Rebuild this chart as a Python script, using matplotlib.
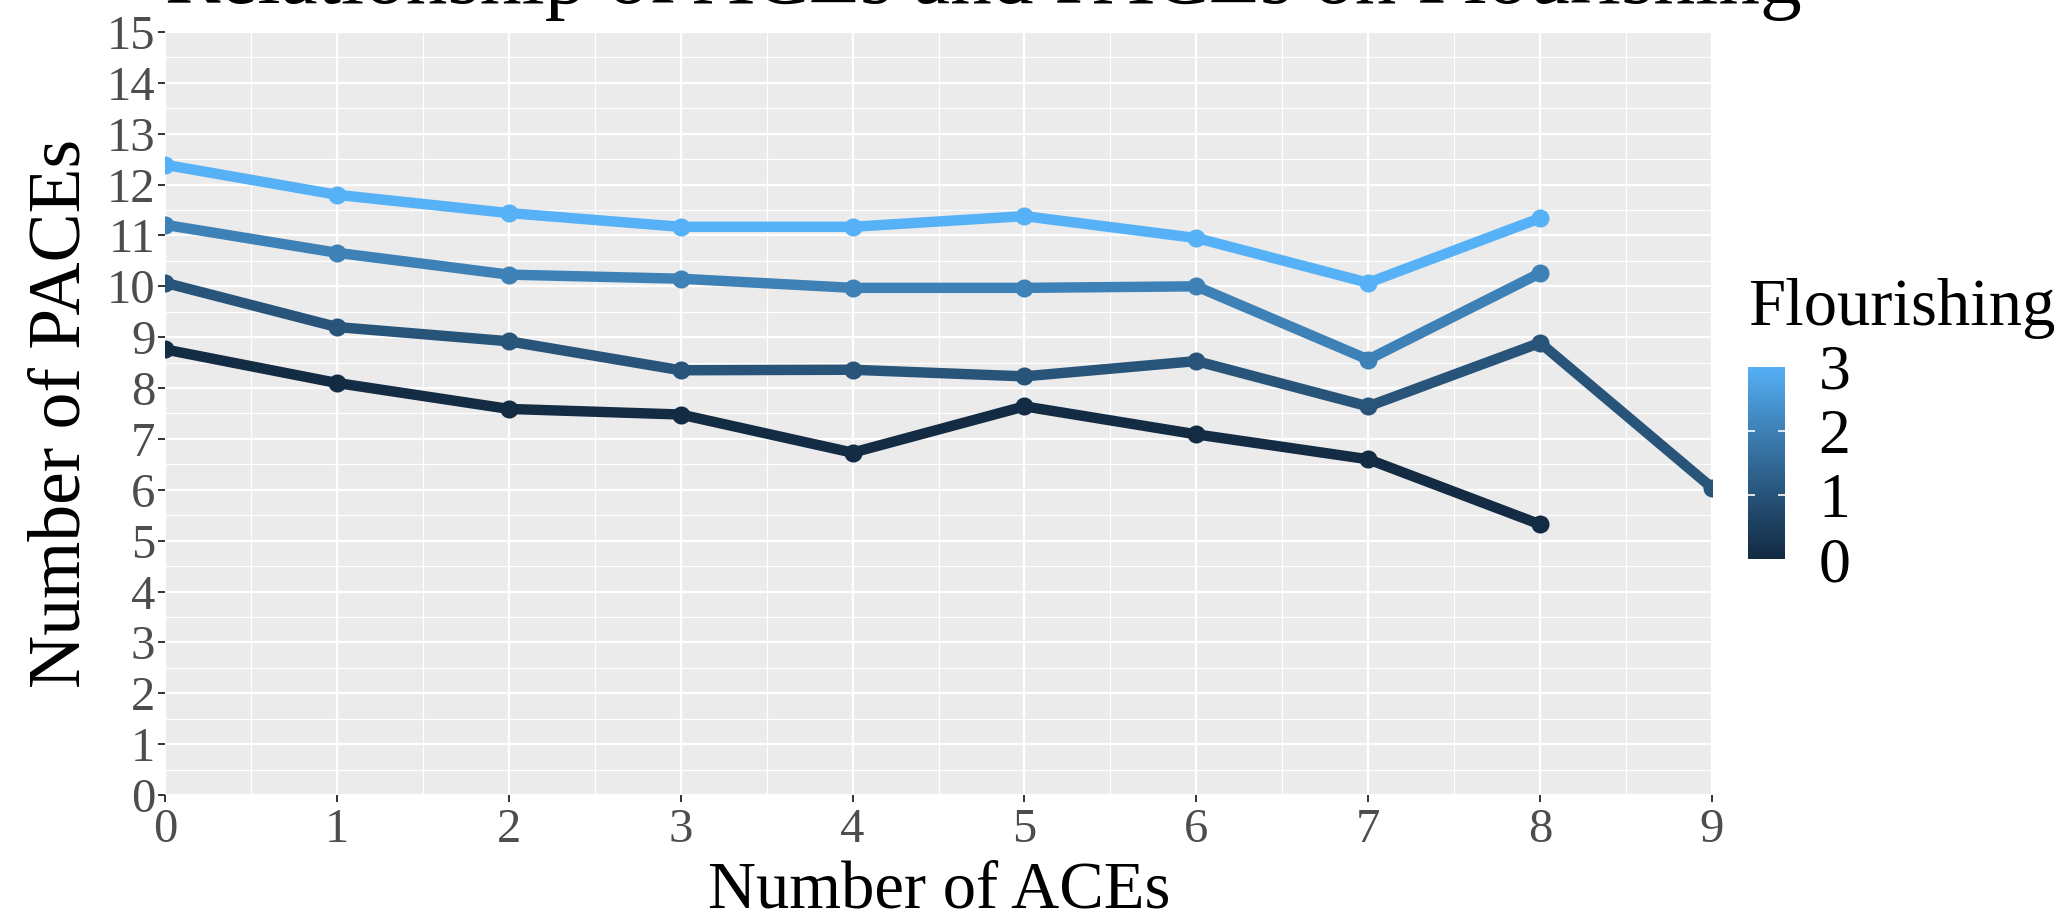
import matplotlib
matplotlib.use("Agg")
import matplotlib.pyplot as plt
import numpy as np
from matplotlib.colors import ListedColormap, to_rgb
from matplotlib.ticker import MultipleLocator

# values
aces = [0, 1, 2, 3, 4, 5, 6, 7, 8, 9]
levels = [0, 1, 2, 3]
paces_f0 = [8.76, 8.10, 7.59, 7.48, 6.73, 7.64, 7.09, 6.60, 5.32]
paces_f1 = [10.07, 9.20, 8.92, 8.35, 8.36, 8.23, 8.53, 7.64, 8.89, 6.04]
paces_f2 = [11.21, 10.66, 10.23, 10.15, 9.97, 9.97, 10.00, 8.56, 10.26]
paces_f3 = [12.39, 11.80, 11.44, 11.17, 11.17, 11.38, 10.95, 10.07, 11.34]
series = [paces_f0, paces_f1, paces_f2, paces_f3]

title = "Relationship of ACEs and PACEs on Flourishing"
x_title = "Number of ACEs"
y_title = "Number of PACEs"
legend_title = "Flourishing"

LOW, HIGH = "#132B43", "#56B1F7"

W, H = 2056, 914
M = np.array([[0.4124, 0.3576, 0.1805],
              [0.2126, 0.7152, 0.0722],
              [0.0193, 0.1192, 0.9505]])
WHITE = np.array([0.95047, 1.0, 1.08883])


def to_lab(rgb):
    c = np.asarray(rgb, float)
    lin = np.where(c <= 0.04045, c / 12.92, ((c + 0.055) / 1.055) ** 2.4)
    xyz = M @ lin / WHITE
    f = np.where(xyz > 0.008856, np.cbrt(xyz), 7.787 * xyz + 16 / 116)
    return np.array([116 * f[1] - 16, 500 * (f[0] - f[1]), 200 * (f[1] - f[2])])


def from_lab(lab):
    L, a, b = lab
    fy = (L + 16) / 116
    fx = fy + a / 500
    fz = fy - b / 200
    f = np.array([fx, fy, fz])
    xyz = np.where(f ** 3 > 0.008856, f ** 3, (f - 16 / 116) / 7.787) * WHITE
    lin = np.linalg.solve(M, xyz)
    lin = np.clip(lin, 0, 1)
    c = np.where(lin <= 0.0031308, 12.92 * lin, 1.055 * lin ** (1 / 2.4) - 0.055)
    return np.clip(c, 0, 1)


lab_lo, lab_hi = to_lab(to_rgb(LOW)), to_lab(to_rgb(HIGH))


def gradient(t):
    return from_lab(lab_lo + (lab_hi - lab_lo) * t)


plt.rcParams["font.family"] = ["Liberation Serif", "DejaVu Serif"]

fig = plt.figure(figsize=(W / 100, H / 100), dpi=100)

px0, px1, py_top, py_bot = 165, 1712, 32, 795
ax = fig.add_axes([px0 / W, 1 - py_bot / H, (px1 - px0) / W, (py_bot - py_top) / H])
ax.set_facecolor("#EBEBEB")
for sp in ax.spines.values():
    sp.set_visible(False)

ax.set_xlim(0, 9)
ax.set_ylim(0, 15)
ax.xaxis.set_major_locator(MultipleLocator(1))
ax.xaxis.set_minor_locator(MultipleLocator(0.5))
ax.yaxis.set_major_locator(MultipleLocator(1))
ax.yaxis.set_minor_locator(MultipleLocator(0.5))
ax.grid(which="major", color="white", linewidth=1.7)
ax.grid(which="minor", color="white", linewidth=0.8)
ax.set_axisbelow(True)
ax.tick_params(which="major", length=5, width=1.4, color="#333333",
               labelcolor="#4D4D4D", labelsize=35)
ax.tick_params(axis="y", pad=2)
ax.tick_params(axis="x", pad=4)
ax.tick_params(which="minor", length=0)

for lvl, vals in zip(levels, series):
    col = gradient(lvl / 3)
    ax.plot(aces[:len(vals)], vals, color=col, linewidth=7.5,
            solid_capstyle="butt", solid_joinstyle="round",
            marker="o", markersize=13, markeredgewidth=0, zorder=3)

fig.text(px0 / W, 1 - 3 / H, title, ha="left", va="baseline", fontsize=60)
fig.text(939 / W, 1 - 907 / H, x_title, ha="center", va="baseline", fontsize=48)
fig.text(62 / W, 1 - 413 / H, y_title, ha="center", va="center",
         rotation=90, fontsize=53)

# colourbar legend
cx0, cx1, cy_top, cy_bot = 1748, 1785, 367, 559
cax = fig.add_axes([cx0 / W, 1 - cy_bot / H, (cx1 - cx0) / W, (cy_bot - cy_top) / H])
ramp = np.linspace(0, 1, 256)
cmap = ListedColormap([gradient(t) for t in ramp])
cax.imshow(ramp[:, None], cmap=cmap, origin="lower", aspect="auto",
           extent=[0, 1, 0, 3])
cax.set_xlim(0, 1)
cax.set_ylim(0, 3)
for sp in cax.spines.values():
    sp.set_visible(False)
cax.set_xticks([])
cax.yaxis.tick_right()
cax.set_yticks(levels)
cax.set_yticklabels([str(v) for v in levels])
cax.tick_params(axis="y", length=0, pad=24, labelsize=46, labelcolor="black")
ytr = cax.get_yaxis_transform()
cax.hlines(levels[1:-1], 0, 0.2, color="white", linewidth=1.2, transform=ytr)
cax.hlines(levels[1:-1], 0.8, 1, color="white", linewidth=1.2, transform=ytr)

fig.text(cx0 / W, 1 - 325 / H, legend_title, ha="left", va="baseline", fontsize=48)

fig.savefig("out.png", dpi=100)
